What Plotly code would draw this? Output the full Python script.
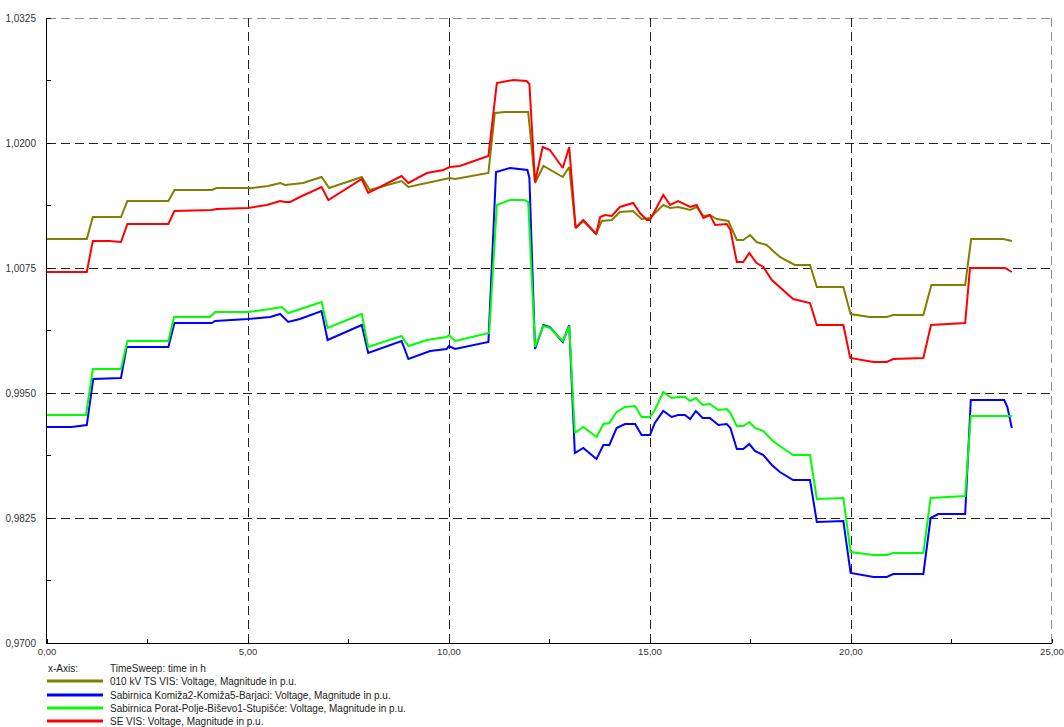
import plotly.graph_objects as go

# ---------------- data (time in h, voltage in p.u.) ----------------
names = [
    "010 kV TS VIS: Voltage, Magnitude in p.u.",
    "Sabirnica Komiža2-Komiža5-Barjaci: Voltage, Magnitude in p.u.",
    "Sabirnica Porat-Polje-Biševo1-Stupišće: Voltage, Magnitude in p.u.",
    "SE VIS: Voltage, Magnitude in p.u.",
]
colors = ["#808000", "#0000FF", "#00FF00", "#FF0000"]

t_ts = [0, 0.99, 1.14, 1.84, 2.0, 3.02, 3.17, 4.1, 4.22, 5.12, 5.5, 5.8, 5.92, 6.37, 6.83, 7.02,
        7.83, 8.03, 8.82, 8.99, 10.02, 10.15, 10.98, 11.14, 11.4, 11.97, 12.14, 12.35, 12.83, 12.99,
        13.15, 13.34, 13.66, 13.8, 14.05, 14.25, 14.58, 14.79, 15.0, 15.33, 15.5, 15.7, 16.0, 16.16,
        16.33, 16.49, 16.66, 16.95, 17.16, 17.32, 17.49, 17.65, 17.9, 18.23, 18.6, 18.98, 19.15,
        19.81, 19.99, 20.47, 20.89, 21.05, 21.8, 22.0, 22.84, 22.99, 23.79, 24.0]
v_ts = [1.0104, 1.0104, 1.0126, 1.0126, 1.0142, 1.0142, 1.0153, 1.0153, 1.0155, 1.0155, 1.0157,
        1.0160, 1.0158, 1.0160, 1.0166, 1.0155, 1.0166, 1.0153, 1.0162, 1.0156, 1.0165, 1.0164,
        1.0170, 1.0230, 1.0231, 1.0231, 1.0160, 1.0177, 1.0166, 1.0176, 1.0115, 1.0122, 1.0109,
        1.0122, 1.0123, 1.0131, 1.0132, 1.0124, 1.0125, 1.0138, 1.0135, 1.0136, 1.0133, 1.0136,
        1.0127, 1.0128, 1.0124, 1.0122, 1.0103, 1.0103, 1.0108, 1.0101, 1.0098, 1.0086, 1.0078,
        1.0078, 1.0056, 1.0056, 1.0029, 1.0026, 1.0026, 1.0028, 1.0028, 1.0058, 1.0058, 1.0104,
        1.0104, 1.0102]

t_kom = [0, 0.61, 0.99, 1.15, 1.84, 1.98, 3.02, 3.17, 4.1, 4.18, 5.0, 5.55, 5.8, 6.0, 6.29, 6.83,
         6.98, 7.83, 7.99, 8.82, 8.99, 9.53, 9.94, 10.0, 10.15, 10.98, 11.17, 11.52, 11.95, 12.0,
         12.14, 12.35, 12.51, 12.83, 12.99, 13.13, 13.34, 13.67, 13.84, 13.99, 14.17, 14.38, 14.63,
         14.79, 15.0, 15.12, 15.33, 15.54, 15.7, 15.87, 16.0, 16.14, 16.31, 16.49, 16.7, 16.91, 17.0,
         17.16, 17.32, 17.47, 17.61, 17.82, 18.03, 18.23, 18.56, 18.98, 19.15, 19.81, 19.99, 20.56,
         20.89, 21.05, 21.8, 21.98, 22.17, 22.84, 22.98, 23.81, 23.89, 24.0]
v_kom = [0.9916, 0.9916, 0.9918, 0.9964, 0.9965, 0.9996, 0.9996, 1.0020, 1.0020, 1.0022, 1.0024,
         1.0026, 1.0029, 1.0021, 1.0024, 1.0032, 1.0003, 1.0018, 0.9990, 1.0002, 0.9984, 0.9992,
         0.9994, 0.9997, 0.9994, 1.0001, 1.0171, 1.0175, 1.0173, 1.0165, 0.9994, 1.0018, 1.0016,
         1.0001, 1.0018, 0.9890, 0.9895, 0.9884, 0.9898, 0.9898, 0.9915, 0.9919, 0.9919, 0.9908,
         0.9908, 0.9920, 0.9932, 0.9926, 0.9928, 0.9928, 0.9924, 0.9932, 0.9925, 0.9925, 0.9918,
         0.9919, 0.9915, 0.9894, 0.9894, 0.9899, 0.9892, 0.9888, 0.9878, 0.9871, 0.9863, 0.9863,
         0.9821, 0.9822, 0.9770, 0.9766, 0.9766, 0.9769, 0.9769, 0.9825, 0.9829, 0.9829, 0.9943,
         0.9943, 0.9936, 0.9915]

t_por = [0, 0.97, 1.14, 1.84, 2.0, 3.02, 3.16, 4.05, 4.18, 5.0, 5.55, 5.84, 6.0, 6.29, 6.83, 6.98,
         7.83, 7.99, 8.82, 8.99, 9.45, 9.94, 10.0, 10.15, 10.69, 11.0, 11.19, 11.52, 11.87, 11.97,
         12.14, 12.35, 12.51, 12.83, 12.99, 13.13, 13.34, 13.67, 13.84, 13.99, 14.17, 14.38, 14.63,
         14.79, 15.0, 15.12, 15.33, 15.54, 15.7, 15.87, 16.0, 16.14, 16.31, 16.49, 16.7, 16.91, 17.0,
         17.16, 17.32, 17.47, 17.61, 17.82, 18.03, 18.19, 18.56, 18.98, 19.15, 19.81, 19.99, 20.56,
         20.89, 21.05, 21.8, 21.98, 22.84, 22.98, 24.0]
v_por = [0.9928, 0.9928, 0.9974, 0.9974, 1.0002, 1.0002, 1.0026, 1.0026, 1.0031, 1.0031, 1.0034,
         1.0036, 1.0030, 1.0034, 1.0041, 1.0015, 1.0029, 0.9996, 1.0007, 0.9997, 1.0003, 1.0006,
         1.0008, 1.0002, 1.0007, 1.0010, 1.0138, 1.0143, 1.0143, 1.0141, 0.9996, 1.0017, 1.0015,
         1.0002, 1.0017, 0.9910, 0.9916, 0.9906, 0.9919, 0.9920, 0.9931, 0.9936, 0.9937, 0.9926,
         0.9926, 0.9933, 0.9951, 0.9945, 0.9946, 0.9946, 0.9942, 0.9945, 0.9938, 0.9939, 0.9933,
         0.9934, 0.9930, 0.9917, 0.9917, 0.9921, 0.9915, 0.9912, 0.9903, 0.9898, 0.9888, 0.9888,
         0.9844, 0.9845, 0.9791, 0.9788, 0.9788, 0.9790, 0.9790, 0.9845, 0.9847, 0.9927, 0.9927]

t_se = [0, 0.99, 1.14, 1.55, 1.84, 2.0, 3.02, 3.17, 4.1, 4.22, 5.0, 5.47, 5.8, 5.92, 6.05, 6.29,
        6.83, 7.0, 7.83, 7.99, 8.82, 8.99, 9.45, 9.86, 10.02, 10.27, 10.98, 11.19, 11.6, 11.93, 12.0,
        12.14, 12.33, 12.51, 12.83, 12.99, 13.15, 13.34, 13.66, 13.76, 13.88, 14.05, 14.25, 14.58,
        14.75, 14.92, 15.0, 15.33, 15.5, 15.7, 16.0, 16.16, 16.33, 16.49, 16.62, 16.91, 17.0, 17.16,
        17.32, 17.47, 17.65, 17.82, 18.03, 18.23, 18.56, 18.98, 19.15, 19.81, 19.98, 20.56, 20.89,
        21.05, 21.8, 21.99, 22.84, 22.96, 23.83, 24.0]
v_se = [1.0071, 1.0071, 1.0102, 1.0102, 1.0101, 1.0119, 1.0119, 1.0132, 1.0133, 1.0134, 1.0135,
        1.0138, 1.0142, 1.0141, 1.0141, 1.0146, 1.0156, 1.0143, 1.0164, 1.0150, 1.0167, 1.0160,
        1.0170, 1.0173, 1.0176, 1.0177, 1.0187, 1.0260, 1.0263, 1.0262, 1.0259, 1.0161, 1.0196,
        1.0193, 1.0175, 1.0196, 1.0115, 1.0123, 1.0109, 1.0126, 1.0128, 1.0127, 1.0136, 1.0140,
        1.0130, 1.0123, 1.0123, 1.0148, 1.0138, 1.0142, 1.0136, 1.0138, 1.0125, 1.0128, 1.0118,
        1.0119, 1.0113, 1.0081, 1.0081, 1.0090, 1.0080, 1.0076, 1.0063, 1.0056, 1.0044, 1.0040,
        1.0018, 1.0018, 0.9985, 0.9981, 0.9981, 0.9984, 0.9985, 1.0018, 1.0020, 1.0075, 1.0075,
        1.0071]

x_title = "x-Axis:"
x_desc = "TimeSweep: time in h"
y_ticks = [0.97, 0.9825, 0.995, 1.0075, 1.02, 1.0325]
x_ticks = [0, 5, 10, 15, 20, 25]
x_range = [0, 25]
y_range = [0.97, 1.0325]

series = [(t_ts, v_ts), (t_kom, v_kom), (t_por, v_por), (t_se, v_se)]

# ---------------- figure ----------------
W, H = 1064, 727
ML, MR, MT, MB = 47, 12, 18, 84
PW, PH = W - ML - MR, H - MT - MB
FONT = "Liberation Sans, Arial, sans-serif"
GRIDCOL = "#222222"
DASH = "9px,5px"

fig = go.Figure()
for (t, v), name, col in zip(series, names, colors):
    fig.add_trace(go.Scatter(x=t, y=v, mode="lines", name=name,
                             line=dict(color=col, width=2), showlegend=False))

grid = dict(showgrid=True, gridcolor=GRIDCOL, gridwidth=1, griddash=DASH, automargin=False)
fig.update_xaxes(range=x_range, tickvals=x_ticks, tickformat=".2f", zeroline=False,
                 showline=True, linecolor="black", linewidth=1, ticks="",
                 ticklabeloverflow="allow",
                 minor=dict(ticks="inside", ticklen=4, tickcolor="black", dtick=2.5,
                            tick0=0, showgrid=False),
                 tickfont=dict(family=FONT, size=9.5, color="#333333"), **grid)
fig.update_yaxes(range=y_range, tickvals=y_ticks, tickformat=".4f", zeroline=False,
                 showline=True, linecolor="black", linewidth=1, ticks="",
                 ticklabelstandoff=8, ticklabeloverflow="allow",
                 minor=dict(ticks="inside", ticklen=4, tickcolor="black", dtick=0.00625,
                            tick0=0.97, showgrid=False),
                 tickfont=dict(family=FONT, size=10, color="#333333"), **grid)

# dashed grid lines on the top and right edges of the plot area
fig.add_shape(type="line", xref="paper", yref="y", x0=0, x1=1, y0=y_range[1], y1=y_range[1],
              line=dict(color=GRIDCOL, width=1, dash=DASH), layer="below")
fig.add_shape(type="line", xref="x", yref="paper", x0=x_range[1], x1=x_range[1], y0=0, y1=1,
              line=dict(color=GRIDCOL, width=1, dash=DASH), layer="below")


def px_x(px):
    return (px - ML) / PW


def px_y(py):
    return (H - MB - py) / PH


# custom legend below the plot
fig.add_annotation(x=px_x(46), y=px_y(668), xref="paper", yref="paper", text=x_title,
                   showarrow=False, xanchor="left", yanchor="middle",
                   font=dict(family=FONT, size=10, color="#222222"))
fig.add_annotation(x=px_x(108), y=px_y(668), xref="paper", yref="paper", text=x_desc,
                   showarrow=False, xanchor="left", yanchor="middle",
                   font=dict(family=FONT, size=10, color="#222222"))
rows = [681, 695, 708, 721]
for name, col, ry in zip(names, colors, rows):
    fig.add_shape(type="line", xref="paper", yref="paper", x0=px_x(47), x1=px_x(103),
                  y0=px_y(ry), y1=px_y(ry), line=dict(color=col, width=3))
    fig.add_annotation(x=px_x(108), y=px_y(ry), xref="paper", yref="paper", text=name,
                       showarrow=False, xanchor="left", yanchor="middle",
                       font=dict(family=FONT, size=10, color="#222222"))

fig.update_layout(width=W, height=H, autosize=False,
                  margin=dict(l=ML, r=MR, t=MT, b=MB, pad=0, autoexpand=False),
                  paper_bgcolor="white", plot_bgcolor="white",
                  separators=",.", showlegend=False,
                  font=dict(family=FONT, size=10, color="#333333"))

fig.write_html("out.html", config={"displayModeBar": False},
               post_script="document.body.style.margin='0';")
